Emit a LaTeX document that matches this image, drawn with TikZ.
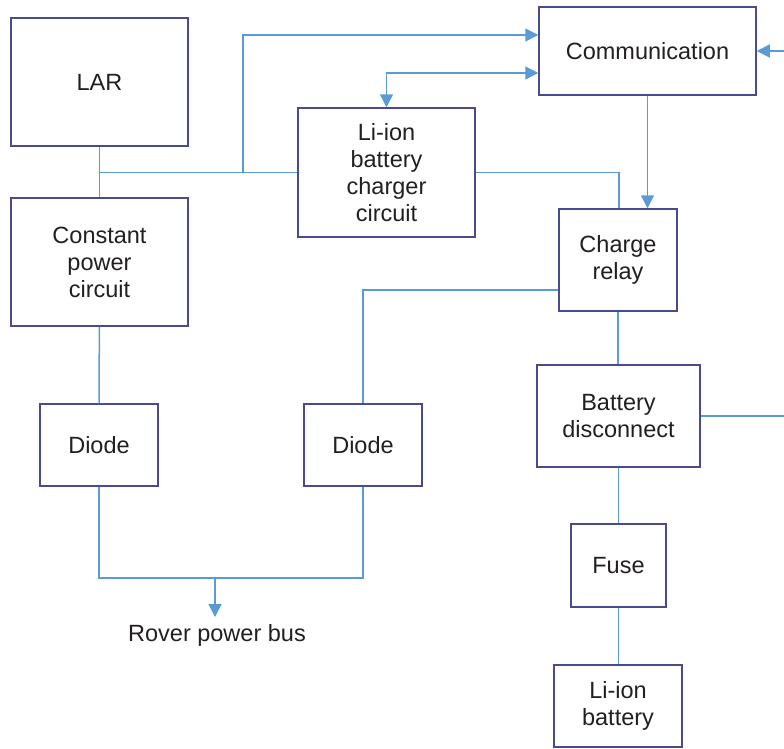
\documentclass[tikz,border=0pt]{standalone}
\usepackage{fontspec}
\setmainfont{Liberation Sans}
\usetikzlibrary{arrows.meta}
\definecolor{boxc}{HTML}{4B4A8C}
\definecolor{linec}{HTML}{5B9BD5}
\definecolor{txtc}{HTML}{231F20}
\tikzset{
  blk/.style={draw=boxc, line width=1.5pt, align=center, text=txtc,
    font=\fontsize{23.5}{27}\selectfont, inner sep=0pt},
  conn/.style={draw=linec, line width=1.5pt},
  arr/.style={conn, -{Triangle[width=13pt,length=13pt]}},
  barr/.style={conn, {Triangle[width=13pt,length=13pt]}-{Triangle[width=13pt,length=13pt]}},
}
\begin{document}
\begin{tikzpicture}[x=1pt,y=-1pt]
\useasboundingbox (0,0) rectangle (784,748);
\node[blk, minimum width=177pt, minimum height=128pt] (lar) at (99.5,82) {LAR};
\node[blk, minimum width=177pt, minimum height=128pt] (cpc) at (99.5,262) {Constant\\power\\circuit};
\node[blk, minimum width=177pt, minimum height=129pt] (chg) at (386.5,172.5) {Li-ion\\battery\\charger\\circuit};
\node[blk, minimum width=217pt, minimum height=88pt] (comm) at (647.5,51) {Communication};
\node[blk, minimum width=118pt, minimum height=102pt] (relay) at (618,260) {Charge\\relay};
\node[blk, minimum width=163pt, minimum height=102pt] (disc) at (618.5,416) {Battery\\disconnect};
\node[blk, minimum width=118pt, minimum height=82pt] (d1) at (99,445) {Diode};
\node[blk, minimum width=118pt, minimum height=82pt] (d2) at (363,445) {Diode};
\node[blk, minimum width=95pt, minimum height=83pt] (fuse) at (618.5,565.5) {Fuse};
\node[blk, minimum width=128pt, minimum height=82pt] (bat) at (618,706) {Li-ion\\battery};
\node[text=txtc, font=\fontsize{23.5}{27}\selectfont, inner sep=0pt] (bus) at (217,635) {Rover power bus};

\coordinate (j1) at (lar.south |- chg.west);
\coordinate (j2) at (243,172.5);
\coordinate (c1) at ([yshift=16pt]comm.west);
\coordinate (c2) at ([yshift=-22pt]comm.west);
\coordinate (e1) at (784,51);
\coordinate (e2) at (784,416);
\coordinate (r1) at ([yshift=-30pt]relay.west);
\coordinate (busL) at (99,578);
\coordinate (busR) at (363,578);
\coordinate (busM) at (215,578);
\coordinate (busE) at (215,617);

\draw[conn] (lar) -- (cpc);
\draw[conn] (j1) -- (chg.west);
\draw[arr] (j2) |- (c1);
\draw[barr] (chg.north) |- (c2);
\draw[conn] (chg.east) -| ([xshift=1pt]relay.north);
\draw[arr] (comm.south) -- (comm.south |- relay.north);
\draw[arr] (e1) -- (comm.east);
\draw[conn] (r1) -| (d2.north);
\draw[conn] (relay.south) -- (relay.south |- disc.north);
\draw[conn] (disc.east) -- (e2);
\draw[conn] (disc.south) -- (disc.south |- fuse.north);
\draw[conn] (fuse.south) -- (fuse.south |- bat.north);
\draw[conn] (cpc) -- (d1);
\draw[conn] (d1.south) -- (busL) -- (busR) -- (d2.south);
\draw[arr] (busM) -- (busE);
\end{tikzpicture}
\end{document}
